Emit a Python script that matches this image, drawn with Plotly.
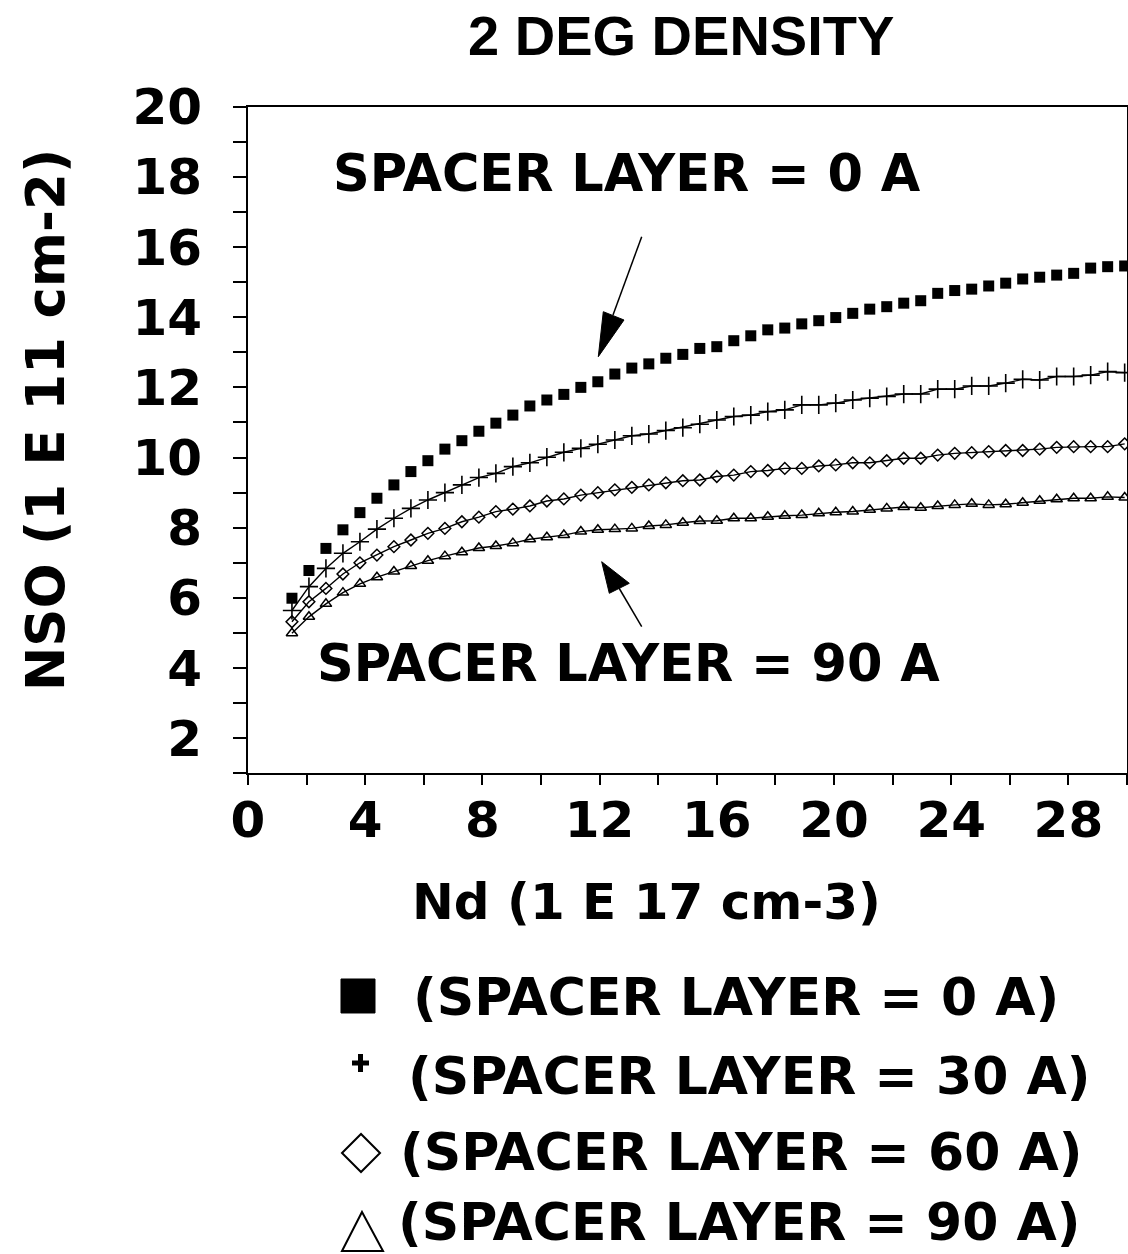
import plotly.graph_objects as go

# ---------------- data ----------------
ND = [1.50, 2.08, 2.66, 3.24, 3.82, 4.40, 4.98, 5.56, 6.14, 6.72,
      7.30, 7.88, 8.46, 9.04, 9.62, 10.20, 10.78, 11.36, 11.94, 12.52,
      13.10, 13.68, 14.26, 14.84, 15.42, 16.00, 16.58, 17.16, 17.74, 18.32,
      18.90, 19.48, 20.06, 20.64, 21.22, 21.80, 22.38, 22.96, 23.54, 24.12,
      24.70, 25.28, 25.86, 26.44, 27.02, 27.60, 28.18, 28.76, 29.34, 29.92]

NSO_0A = [5.99, 6.78, 7.41, 7.94, 8.43, 8.84, 9.22, 9.60, 9.91, 10.24,
          10.48, 10.75, 10.98, 11.21, 11.47, 11.64, 11.80, 12.00, 12.16, 12.38,
          12.55, 12.67, 12.83, 12.94, 13.11, 13.16, 13.33, 13.47, 13.64, 13.69,
          13.81, 13.90, 13.99, 14.11, 14.23, 14.30, 14.40, 14.47, 14.68, 14.76,
          14.80, 14.89, 14.97, 15.09, 15.14, 15.20, 15.25, 15.40, 15.44, 15.46]

NSO_30A = [5.64, 6.32, 6.84, 7.27, 7.60, 7.96, 8.27, 8.55, 8.79, 9.00,
           9.22, 9.43, 9.55, 9.74, 9.85, 10.01, 10.15, 10.26, 10.38, 10.50,
           10.62, 10.67, 10.77, 10.85, 10.95, 11.07, 11.17, 11.21, 11.31, 11.36,
           11.50, 11.50, 11.55, 11.64, 11.69, 11.74, 11.81, 11.81, 11.95, 11.95,
           12.04, 12.04, 12.12, 12.23, 12.21, 12.31, 12.31, 12.35, 12.45, 12.42]

NSO_60A = [5.32, 5.89, 6.27, 6.68, 7.00, 7.22, 7.46, 7.65, 7.84, 7.98,
           8.17, 8.30, 8.46, 8.53, 8.62, 8.76, 8.82, 8.93, 9.00, 9.08,
           9.15, 9.22, 9.28, 9.34, 9.36, 9.46, 9.50, 9.60, 9.63, 9.69,
           9.69, 9.76, 9.79, 9.85, 9.85, 9.91, 9.98, 9.98, 10.07, 10.12,
           10.14, 10.17, 10.20, 10.20, 10.24, 10.29, 10.31, 10.31, 10.31, 10.39]

NSO_90A = [4.99, 5.46, 5.83, 6.15, 6.40, 6.59, 6.75, 6.91, 7.06, 7.19,
           7.30, 7.42, 7.48, 7.56, 7.67, 7.73, 7.79, 7.89, 7.94, 7.96,
           7.98, 8.05, 8.08, 8.14, 8.19, 8.20, 8.27, 8.27, 8.31, 8.34,
           8.36, 8.41, 8.44, 8.46, 8.51, 8.55, 8.59, 8.57, 8.62, 8.65,
           8.68, 8.65, 8.67, 8.71, 8.77, 8.81, 8.84, 8.84, 8.88, 8.86]

X_TICK_VALS = [0, 2, 4, 6, 8, 10, 12, 14, 16, 18, 20, 22, 24, 26, 28, 30]
X_TICK_TEXT = ["0", "", "4", "", "8", "", "12", "", "16", "", "20", "", "24", "", "28", ""]
Y_TICK_VALS = [1, 2, 3, 4, 5, 6, 7, 8, 9, 10, 11, 12, 13, 14, 15, 16, 17, 18, 19, 20]
Y_TICK_TEXT = ["", "2", "", "4", "", "6", "", "8", "", "10", "", "12", "", "14", "", "16", "", "18", "", "20"]

LEGEND_LABELS = ["(SPACER LAYER = 0 A)", "(SPACER LAYER = 30 A)",
                 "(SPACER LAYER = 60 A)", "(SPACER LAYER = 90 A)"]

TITLE = "2 DEG DENSITY"
X_TITLE = "Nd (1 E 17 cm-3)"
Y_TITLE = "NSO (1 E 11 cm-2)"
NOTE_TOP = "SPACER LAYER = 0 A"
NOTE_BOTTOM = "SPACER LAYER = 90 A"

# ---------------- layout helpers ----------------
W, H = 1128, 1254


def px(x):
    return x / W


def py(y):
    return 1 - y / H


FONT = "DejaVu Sans"
BIG = dict(family=FONT, size=50, color="black", weight="bold")
NOTE = dict(family=FONT, size=51, color="black", weight="bold")
LEG = dict(family=FONT, size=52, color="black", weight="bold")
YT = dict(family=FONT, size=53, color="black", weight="bold")

fig = go.Figure()

fig.add_trace(go.Scatter(x=ND, y=NSO_0A, mode="markers", name=LEGEND_LABELS[0],
                         marker=dict(symbol="square", size=11, color="black"),
                         showlegend=False))
fig.add_trace(go.Scatter(x=ND, y=NSO_30A, mode="lines+markers", name=LEGEND_LABELS[1],
                         line=dict(color="black", width=1.4),
                         marker=dict(symbol="cross-thin", size=13, color="black",
                                     line=dict(color="black", width=1.6)),
                         showlegend=False))
fig.add_trace(go.Scatter(x=ND, y=NSO_60A, mode="lines+markers", name=LEGEND_LABELS[2],
                         line=dict(color="black", width=1.4),
                         marker=dict(symbol="diamond-open", size=9, color="black",
                                     line=dict(color="black", width=1.5)),
                         showlegend=False))
fig.add_trace(go.Scatter(x=ND, y=NSO_90A, mode="lines+markers", name=LEGEND_LABELS[3],
                         line=dict(color="black", width=1.4),
                         marker=dict(symbol="triangle-up-open", size=10, color="black",
                                     line=dict(color="black", width=1.5)),
                         showlegend=False))

fig.update_layout(
    width=W, height=H,
    margin=dict(l=0, r=0, t=0, b=0),
    paper_bgcolor="white", plot_bgcolor="white",
    showlegend=False,
    xaxis=dict(domain=[px(248), px(1127)], range=[0, 30], automargin=False,
               tickmode="array", tickvals=X_TICK_VALS, ticktext=X_TICK_TEXT,
               ticks="outside", ticklen=10, tickwidth=2, tickcolor="black",
               showline=True, linecolor="black", linewidth=2, mirror=True,
               showgrid=False, zeroline=False, tickfont=BIG, ticklabelstandoff=-8),
    yaxis=dict(domain=[py(773.3), py(106.7)], range=[1, 20], automargin=False,
               tickmode="array", tickvals=Y_TICK_VALS, ticktext=Y_TICK_TEXT,
               ticks="outside", ticklen=13, tickwidth=2, tickcolor="black",
               showline=True, linecolor="black", linewidth=2, mirror=True,
               showgrid=False, zeroline=False, tickfont=BIG, ticklabelstandoff=21),
)

ann = []
ann.append(dict(x=px(681), y=py(35), xref="paper", yref="paper", text=TITLE,
                showarrow=False, xanchor="center", yanchor="middle",
                font=dict(family="Liberation Sans", size=56, color="black", weight="bold")))
ann.append(dict(x=px(627), y=py(173), xref="paper", yref="paper", text=NOTE_TOP,
                showarrow=False, xanchor="center", yanchor="middle", font=NOTE))
ann.append(dict(x=px(628), y=py(664), xref="paper", yref="paper", text=NOTE_BOTTOM,
                showarrow=False, xanchor="center", yanchor="middle", font=NOTE))
ann.append(dict(x=px(646), y=py(902), xref="paper", yref="paper", text=X_TITLE,
                showarrow=False, xanchor="center", yanchor="middle", font=BIG))
ann.append(dict(x=px(46), y=py(420), xref="paper", yref="paper", text=Y_TITLE,
                showarrow=False, xanchor="center", yanchor="middle", textangle=-90, font=YT))

leg_pos = [(411, 997), (406, 1076), (398, 1152)]
for label, (lx, ly) in zip(LEGEND_LABELS[:3], leg_pos):
    ann.append(dict(x=px(lx), y=py(ly), xref="paper", yref="paper", text=label,
                    showarrow=False, xanchor="left", yanchor="middle", font=LEG))
# last legend row sits at the very bottom edge of the figure
ann.append(dict(x=px(396), y=0, xref="paper", yref="paper", text=LEGEND_LABELS[3],
                showarrow=False, xanchor="left", yanchor="bottom", font=LEG))
fig.update_layout(annotations=ann)

shapes = []


def path(points, fill=None, width=1.5):
    d = "M " + " L ".join(f"{px(a):.5f},{py(b):.5f}" for a, b in points) + " Z"
    return dict(type="path", path=d, xref="paper", yref="paper",
                line=dict(color="black", width=width),
                fillcolor=fill if fill else "rgba(0,0,0,0)")


def seg(a, b, width=1.5):
    return dict(type="line", xref="paper", yref="paper",
                x0=px(a[0]), y0=py(a[1]), x1=px(b[0]), y1=py(b[1]),
                line=dict(color="black", width=width))


# arrows
shapes.append(seg((641.7, 236.7), (613, 315), 1.5))
shapes.append(path([(603.3, 311.7), (624, 320), (598.3, 356.7)], fill="black", width=1))
shapes.append(seg((641.7, 626.7), (619, 588), 1.5))
shapes.append(path([(609.3, 593.3), (629.3, 583.3), (601.7, 561.7)], fill="black", width=1))

# legend symbols
shapes.append(path([(341, 979), (375, 979), (375, 1013), (341, 1013)], fill="black", width=1))
shapes.append(seg((352, 1063), (369, 1063), 5))
shapes.append(seg((360.5, 1054), (360.5, 1072), 5))
shapes.append(path([(342, 1153), (361, 1134), (380, 1153), (361, 1172)], width=2))
shapes.append(path([(362, 1212), (383, 1251), (342, 1251)], width=2))

fig.update_layout(shapes=shapes)

fig.write_html("out.html")
